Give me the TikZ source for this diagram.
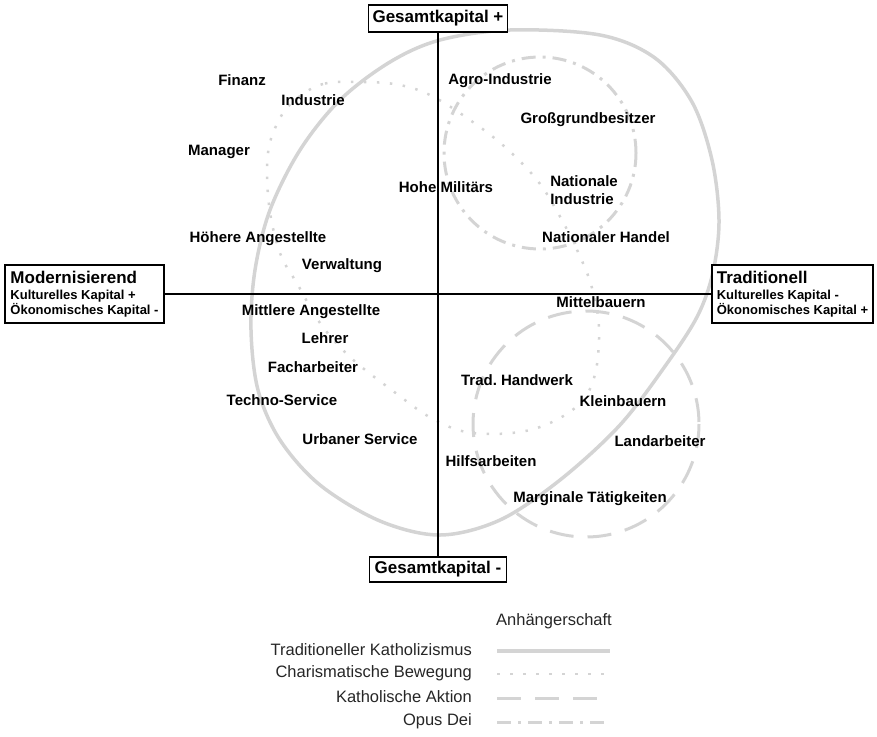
\documentclass[tikz,border=0pt]{standalone}
\usepackage{fontspec}
\setmainfont{Liberation Sans}
\definecolor{kgray}{RGB}{212,212,212}
\frenchspacing
\begin{document}
\begin{tikzpicture}[x=1pt,y=-1pt,
  lab/.style={font=\bfseries\fontsize{15}{18}\selectfont, inner sep=0pt},
  axbox/.style={draw, line width=1.5pt, fill=white, inner sep=0pt,
    font=\bfseries\fontsize{17}{19}\selectfont},
  sidebox/.style={draw, line width=1.5pt, fill=white, align=left, inner sep=0pt,
    minimum height=58pt, font=\bfseries\fontsize{13}{15}\selectfont},
  katho/.style={draw=kgray, line width=3.5pt},
  chari/.style={draw=kgray, line width=2.5pt, dash pattern=on 2.5pt off 10.5pt},
  aktion/.style={draw=kgray, line width=3pt, dash pattern=on 24pt off 14pt},
  opus/.style={draw=kgray, line width=3pt, dash pattern=on 14pt off 7pt on 3pt off 7pt},
  leg/.style={font=\fontsize{16.5}{18}\selectfont, anchor=east, inner sep=0pt, text=black!85}]
\useasboundingbox (0,0) rectangle (877,736);

% Anhaengerschaft
\draw[katho] plot[smooth cycle, tension=0.55] coordinates {(440,40) (510,30) (600,35) (655,58)
  (692,102) (712,160) (719,220) (713,272) (698,315) (668,362) (620,425) (560,480) (500,520)
  (440,535) (380,521) (320,485) (280,440) (258,390) (251,330) (255,270) (270,210) (300,150)
  (340,100) (390,62)};
\draw[chari] plot[smooth cycle, tension=0.6] coordinates {(363,82) (323,84) (295,100) (279,120)
  (268,153) (269,205) (280,253) (298,285) (320,323) (350,357) (393,391) (433,419) (473,433)
  (530,430) (575,408) (594,378) (599,330) (592,288) (578,252) (558,213) (537,180) (505,147)
  (470,120) (432,96) (400,85)};
\draw[aktion] (586,424) circle [radius=113];
\draw[opus] (540,153) circle [radius=96];

% Achsen
\node[axbox, minimum width=139pt, minimum height=27pt] (gtop) at (438,18.5) {Gesamtkapital +};
\node[axbox, minimum width=137pt, minimum height=25pt] (gbot) at (438,569.5) {Gesamtkapital -};
\node[sidebox, minimum width=159pt] (modern) at (84.5,294)
  {{\fontsize{17}{19}\selectfont Modernisierend}\\[1pt] Kulturelles Kapital +\\ Ökonomisches Kapital -};
\node[sidebox, minimum width=161pt] (tradi) at (792.5,294)
  {{\fontsize{17}{19}\selectfont Traditionell}\\[1pt] Kulturelles Kapital -\\ Ökonomisches Kapital +};
\draw[line width=2pt] (gtop) -- (gbot);
\draw[line width=2pt] (modern) -- (tradi);

% Gruppen
\node[lab] (finanz) at (242,80) {Finanz};
\node[lab] (indus) at (313,100) {Industrie};
\node[lab] (manager) at (219,152) {Manager};
\node[lab] (hoehang) at (258,239) {Höhere Angestellte};
\node[lab] (verw) at (342,266) {Verwaltung};
\node[lab] (mittang) at (311,312) {Mittlere Angestellte};
\node[lab] (lehrer) at (325,338) {Lehrer};
\node[lab] (fach) at (313,367) {Facharbeiter};
\node[lab] (techno) at (282,400) {Techno-Service};
\node[lab] (urban) at (360,439) {Urbaner Service};
\node[lab] (milit) at (446,187) {Hohe Militärs};
\node[lab] (agro) at (500,81) {Agro-Industrie};
\node[lab] (gross) at (588,120) {Großgrundbesitzer};
\node[lab, align=left] (natind) at (584,190) {Nationale\\Industrie};
\node[lab] (nathan) at (606,237) {Nationaler Handel};
\node[lab] (mittelb) at (601,302) {Mittelbauern};
\node[lab] (handw) at (517,380) {Trad. Handwerk};
\node[lab] (kleinb) at (623,401) {Kleinbauern};
\node[lab] (landarb) at (660,441) {Landarbeiter};
\node[lab] (hilfs) at (491,461) {Hilfsarbeiten};
\node[lab] (margin) at (590,499) {Marginale Tätigkeiten};

% Legende
\node[font=\fontsize{16.5}{18}\selectfont, inner sep=0pt, text=black!85] (lhead) at (554,621) {Anhängerschaft};
\node[leg] (lkat) at (472,650) {Traditioneller Katholizismus};
\node[leg] (lchar) at (472,673) {Charismatische Bewegung};
\node[leg] (lakt) at (472,697) {Katholische Aktion};
\node[leg] (lopus) at (472,721) {Opus Dei};
\draw[katho] (497,651) -- (610,651);
\draw[chari] (497,674) -- (610,674);
\draw[aktion] (497,698) -- (610,698);
\draw[opus] (497,722) -- (610,722);
\end{tikzpicture}
\end{document}
